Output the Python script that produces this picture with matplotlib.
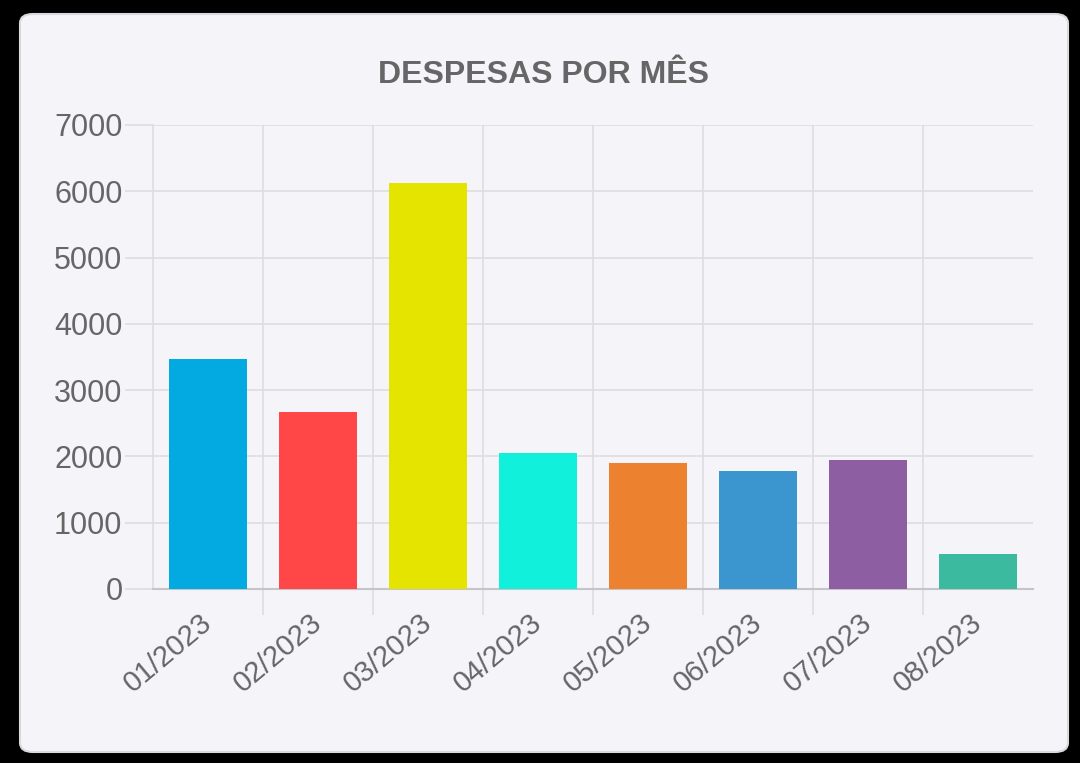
import matplotlib
matplotlib.use('Agg')
import matplotlib.pyplot as plt
from matplotlib.patches import FancyBboxPatch
from matplotlib.ticker import FixedLocator

# data
meses = ['01/2023', '02/2023', '03/2023', '04/2023',
         '05/2023', '06/2023', '07/2023', '08/2023']
despesas = [3470, 2670, 6130, 2050, 1900, 1780, 1945, 530]
cores = ['#03a9e1', '#ff4747', '#e4e400', '#10f0da',
         '#ec8130', '#3b95cf', '#8e5ea2', '#3cba9f']
y_ticks = [0, 1000, 2000, 3000, 4000, 5000, 6000, 7000]

plt.rcParams['font.family'] = ['Liberation Sans', 'DejaVu Sans']

W, H = 1080, 763
fig = plt.figure(figsize=(W / 100, H / 100), dpi=100, facecolor='black')

# card background
card = FancyBboxPatch((20 / W, 1 - 752 / H), 1048 / W, 738 / H,
                      boxstyle='round,pad=0,rounding_size=0.012',
                      transform=fig.transFigure, facecolor='#f4f4f9',
                      edgecolor='#d9d9de', linewidth=1.5, zorder=-10)
fig.patches.append(card)

ax = fig.add_axes([153 / W, 1 - 589 / H, 880 / W, 464 / H])
ax.set_facecolor('none')

x = list(range(len(meses)))
ax.bar(x, despesas, width=0.71, color=cores, zorder=3)

grid_c = '#dcdce2'
ax.set_xlim(-0.5, len(meses) - 0.5)
ax.set_ylim(0, 7000)
ax.set_yticks(y_ticks)
ax.xaxis.set_major_locator(FixedLocator(x))
# boundaries between categories (no line on the outer edges)
ax.xaxis.set_minor_locator(FixedLocator([i + 0.5 for i in range(len(meses) - 1)]))
ax.set_xticklabels(meses, rotation=40, ha='right', va='center',
                   rotation_mode='anchor')

ax.tick_params(axis='x', which='major', length=0, pad=22,
               labelsize=21, labelcolor='#666666')
ax.tick_params(axis='x', which='minor', length=19, width=1.2, color=grid_c)
ax.tick_params(axis='y', length=20, width=1.2, color=grid_c, pad=2,
               labelsize=22, labelcolor='#666666')

ax.grid(True, which='minor', axis='x', color=grid_c, linewidth=1.2, zorder=0)
ax.grid(True, which='major', axis='y', color=grid_c, linewidth=1.2, zorder=0)

for s in ['top', 'right']:
    ax.spines[s].set_visible(False)
ax.spines['left'].set_color(grid_c)
ax.spines['left'].set_linewidth(1.2)
ax.spines['bottom'].set_color('#c4c4ca')
ax.spines['bottom'].set_linewidth(1.5)

fig.text(544 / W, 1 - 75 / H, 'DESPESAS POR MÊS', ha='center', va='center',
         fontsize=23, fontweight='bold', color='#666666')

fig.savefig('out.png', dpi=100, facecolor='black')
